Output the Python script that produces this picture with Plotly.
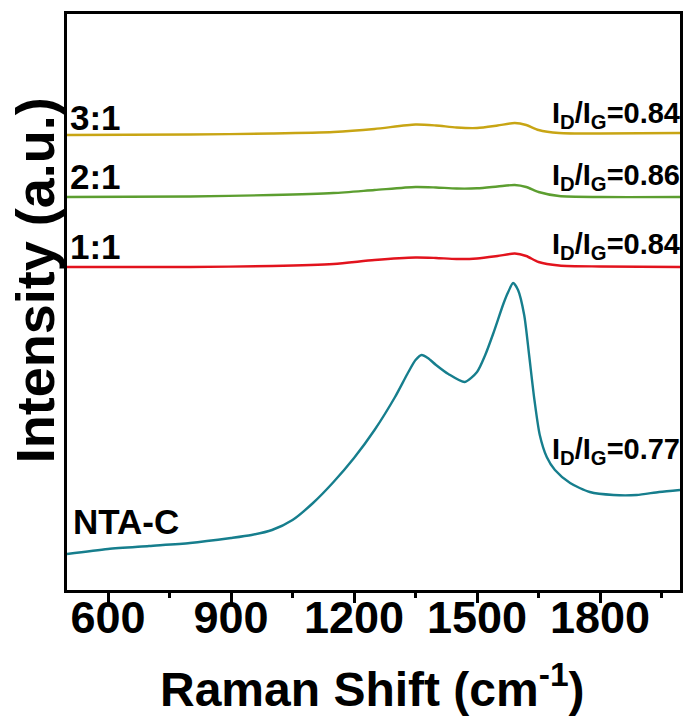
import plotly.graph_objects as go

# Raman shift (cm^-1) sample positions
x_nta = [500, 600, 700, 800, 900, 950, 1000, 1050, 1100, 1150, 1200, 1250, 1300, 1330, 1350, 1365,
         1380, 1400, 1430, 1470, 1500, 1520, 1540, 1565, 1576, 1588, 1600, 1615, 1627, 1640, 1653,
         1670, 1690, 1727, 1775, 1833, 1889, 1944, 1995]
y_nta = [36, 41, 44, 47, 52, 55, 60, 70, 87, 108, 132, 160, 193, 216, 230, 235,
         232, 225, 216, 208, 218, 235, 257, 287, 298, 307, 300, 275, 235, 190, 155,
         133, 120, 107, 98, 95, 95, 98, 100]

x_ratio = [500, 800, 1000, 1150, 1250, 1350, 1400, 1450, 1500, 1550, 1592, 1620, 1650, 1700, 1800, 1995]
y_11 = [323, 323, 324, 326, 330, 332.5, 332, 331, 331.5, 334, 336.5, 334, 328, 324.5, 323.5, 323]
y_21 = [393, 393.5, 395, 397, 400, 403, 402.5, 401.5, 401.7, 403.5, 405, 403, 398, 394, 393, 393]
y_31 = [455, 455.5, 456.5, 458, 461, 465.5, 464.5, 462.5, 462, 464.5, 467, 465, 460, 457, 456.5, 457]

series_names = ["NTA-C", "1:1", "2:1", "3:1"]
ratio_labels = ["0.77", "0.84", "0.86", "0.84"]
label_y = [69, 344, 414, 473]
ratio_y = [139, 344, 413, 475]
colors = ["#167e8d", "#e2131d", "#5c9e30", "#c8a514"]

FONT = "Liberation Sans, Arial, sans-serif"

fig = go.Figure()
data = [(x_nta, y_nta), (x_ratio, y_11), (x_ratio, y_21), (x_ratio, y_31)]
for (xs, ys), name, c in zip(data, series_names, colors):
    fig.add_trace(go.Scatter(x=xs, y=ys, mode="lines", name=name,
                             line=dict(color=c, width=2.4, shape="spline", smoothing=0.7)))

for name, ly in zip(series_names, label_y):
    fig.add_annotation(x=0.002 if name != "NTA-C" else 0.006, y=ly, xref="paper", yref="y",
                       text="<b>%s</b>" % name, showarrow=False, xanchor="left", yanchor="middle",
                       font=dict(family=FONT, size=35, color="black"))
for r, ry in zip(ratio_labels, ratio_y):
    fig.add_annotation(x=1.004, y=ry, xref="paper", yref="y",
                       text="<b>I<sub>D</sub>/I<sub>G</sub>=%s</b>" % r, showarrow=False,
                       xanchor="right", yanchor="middle",
                       font=dict(family=FONT, size=29, color="black"))

# axis titles as annotations for exact placement
fig.add_annotation(x=0.498, y=-0.167, xref="paper", yref="paper",
                   text="<b>Raman Shift (cm<sup>-1</sup>)</b>", showarrow=False,
                   xanchor="center", yanchor="middle",
                   font=dict(family=FONT, size=48, color="black"))
fig.add_annotation(x=-0.052, y=0.538, xref="paper", yref="paper",
                   text="<b>Intensity (a.u.)</b>", showarrow=False, textangle=-90,
                   xanchor="center", yanchor="middle",
                   font=dict(family=FONT, size=54, color="black"))

fig.update_layout(
    width=689, height=720,
    margin=dict(l=67, r=6, t=14, b=130),
    paper_bgcolor="white", plot_bgcolor="white",
    showlegend=False,
    font=dict(family=FONT, color="black"),
)
fig.update_xaxes(
    range=[500, 1995], showgrid=False, zeroline=False,
    showline=True, mirror=True, linewidth=3, linecolor="black",
    ticks="outside", ticklen=10, tickwidth=3, tickcolor="black",
    tick0=600, dtick=300, ticklabelstandoff=-24,
    minor=dict(ticks="outside", ticklen=5, tickwidth=3, tickcolor="black", tick0=600, dtick=150),
    tickfont=dict(family=FONT, size=45, color="black"),
    tickprefix="<b>", ticksuffix="</b>",
)
fig.update_yaxes(
    range=[0, 576], showgrid=False, zeroline=False,
    showline=True, mirror=True, linewidth=3, linecolor="black",
    ticks="", showticklabels=False,
)

fig.write_html("out.html")
